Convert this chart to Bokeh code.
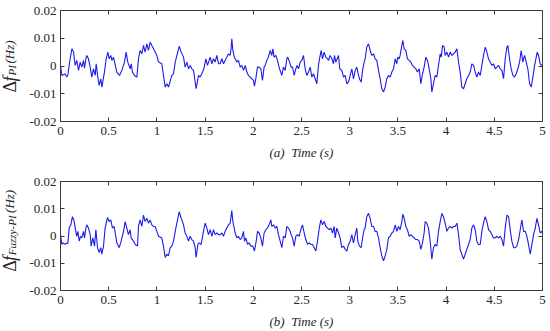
import numpy as np
from bokeh.plotting import figure
from bokeh.models import LinearAxis, FixedTicker, Range1d
from bokeh.layouts import column, row
from bokeh.core.properties import value
from bokeh.embed import file_html
from bokeh.resources import INLINE

# ---------------- data ----------------
x_ticks = [0, 0.5, 1, 1.5, 2, 2.5, 3, 3.5, 4, 4.5, 5]
x_tick_labels = ["0", "0.5", "1", "1.5", "2", "2.5", "3", "3.5", "4", "4.5", "5"]
y_ticks = [-0.02, -0.01, 0, 0.01, 0.02]
y_tick_labels = ["-0.02", "-0.01", "0", "0.01", "0.02"]

# (time s, delta f Hz) -- PI controller
pi_points = [
    (0.000, 0.0002), (0.014, -0.0034), (0.048, -0.0028), (0.066, -0.0040), (0.076, -0.0032),
    (0.100, 0.0026), (0.118, 0.0062), (0.135, 0.0050), (0.152, 0.0002), (0.169, 0.0020),
    (0.187, -0.0016), (0.204, 0.0014), (0.221, -0.0004), (0.239, 0.0020), (0.249, -0.0008),
    (0.263, 0.0026), (0.273, 0.0038), (0.290, 0.0026), (0.308, -0.0004), (0.325, -0.0040),
    (0.342, -0.0010), (0.360, -0.0034), (0.370, 0.0008), (0.387, -0.0040), (0.401, -0.0070),
    (0.418, -0.0046), (0.429, -0.0076), (0.456, -0.0022), (0.474, 0.0026), (0.491, 0.0050),
    (0.505, 0.0026), (0.522, 0.0038), (0.533, 0.0020), (0.550, 0.0032), (0.584, -0.0022),
    (0.612, -0.0034), (0.636, -0.0016), (0.664, 0.0014), (0.681, 0.0050), (0.698, 0.0014),
    (0.723, -0.0010), (0.733, 0.0008), (0.747, -0.0022), (0.768, -0.0034), (0.792, -0.0040),
    (0.809, 0.0026), (0.826, 0.0056), (0.844, 0.0044), (0.861, 0.0074), (0.878, 0.0050),
    (0.896, 0.0080), (0.913, 0.0056), (0.930, 0.0086), (0.947, 0.0074), (0.965, 0.0062),
    (0.999, 0.0038), (1.017, 0.0014), (1.051, 0.0008), (1.068, -0.0034), (1.086, -0.0076),
    (1.103, -0.0064), (1.120, -0.0076), (1.155, -0.0034), (1.172, -0.0028), (1.190, 0.0014),
    (1.231, 0.0071), (1.252, 0.0050), (1.276, 0.0032), (1.293, -0.0004), (1.311, 0.0014),
    (1.328, -0.0010), (1.345, 0.0002), (1.362, -0.0010), (1.380, -0.0016), (1.407, -0.0082),
    (1.432, -0.0034), (1.449, -0.0040), (1.473, -0.0022), (1.487, -0.0010), (1.508, 0.0026),
    (1.525, 0.0002), (1.553, 0.0032), (1.570, 0.0008), (1.587, 0.0026), (1.604, 0.0014),
    (1.622, 0.0038), (1.639, 0.0008), (1.656, 0.0008), (1.674, 0.0026), (1.691, 0.0008),
    (1.708, 0.0020), (1.725, 0.0032), (1.743, 0.0044), (1.760, 0.0038), (1.770, 0.0062),
    (1.777, 0.0098), (1.788, 0.0056), (1.803, 0.0032), (1.812, 0.0026), (1.829, 0.0014),
    (1.846, 0.0020), (1.864, -0.0004), (1.881, 0.0002), (1.898, -0.0016), (1.916, 0.0002),
    (1.933, -0.0022), (1.950, -0.0034), (1.967, -0.0040), (1.985, -0.0046), (2.002, -0.0052),
    (2.012, -0.0073), (2.026, -0.0046), (2.043, -0.0004), (2.061, -0.0004), (2.078, -0.0010),
    (2.095, -0.0052), (2.112, -0.0004), (2.123, 0.0002), (2.140, 0.0020), (2.157, 0.0032),
    (2.175, 0.0056), (2.192, 0.0038), (2.203, 0.0062), (2.216, 0.0032), (2.234, 0.0038),
    (2.251, 0.0020), (2.272, -0.0010), (2.296, -0.0034), (2.313, -0.0004), (2.331, -0.0016),
    (2.348, 0.0026), (2.358, 0.0032), (2.376, 0.0014), (2.393, -0.0004), (2.407, -0.0004),
    (2.424, -0.0034), (2.441, -0.0010), (2.455, 0.0002), (2.469, -0.0010), (2.486, 0.0014),
    (2.503, 0.0020), (2.521, 0.0038), (2.538, -0.0010), (2.555, -0.0034), (2.573, -0.0022),
    (2.590, -0.0004), (2.607, -0.0040), (2.624, -0.0028), (2.642, -0.0046), (2.659, -0.0064),
    (2.676, 0.0002), (2.687, 0.0026), (2.704, 0.0056), (2.718, 0.0026), (2.735, 0.0050),
    (2.752, 0.0032), (2.770, 0.0026), (2.780, 0.0020), (2.797, 0.0038), (2.815, 0.0026),
    (2.832, 0.0008), (2.842, 0.0038), (2.856, 0.0014), (2.870, 0.0026), (2.884, 0.0038),
    (2.897, -0.0010), (2.918, -0.0016), (2.936, -0.0040), (2.953, -0.0034), (2.970, -0.0064),
    (2.988, -0.0058), (3.005, -0.0034), (3.022, -0.0010), (3.039, -0.0046), (3.057, -0.0016),
    (3.074, -0.0004), (3.084, -0.0022), (3.101, -0.0046), (3.119, -0.0058), (3.136, -0.0010),
    (3.150, 0.0014), (3.160, 0.0026), (3.177, 0.0068), (3.195, 0.0080), (3.212, 0.0056),
    (3.229, 0.0038), (3.247, 0.0044), (3.264, 0.0026), (3.281, 0.0020), (3.299, -0.0016),
    (3.316, -0.0046), (3.333, -0.0082), (3.351, -0.0094), (3.368, -0.0076), (3.385, -0.0046),
    (3.402, -0.0034), (3.420, -0.0040), (3.437, -0.0022), (3.455, -0.0010), (3.472, 0.0026),
    (3.489, 0.0008), (3.499, 0.0032), (3.513, 0.0026), (3.523, 0.0038), (3.541, 0.0074),
    (3.551, 0.0092), (3.565, 0.0062), (3.582, 0.0056), (3.599, 0.0026), (3.617, 0.0020),
    (3.634, 0.0014), (3.651, 0.0002), (3.669, -0.0004), (3.686, -0.0010), (3.703, -0.0022),
    (3.721, -0.0010), (3.738, -0.0064), (3.755, -0.0028), (3.772, -0.0004), (3.790, 0.0032),
    (3.807, 0.0020), (3.824, -0.0010), (3.842, -0.0046), (3.852, -0.0094), (3.869, -0.0064),
    (3.886, -0.0034), (3.904, -0.0040), (3.921, 0.0002), (3.939, 0.0044), (3.949, 0.0032),
    (3.963, 0.0074), (3.980, 0.0068), (3.990, 0.0038), (4.008, 0.0050), (4.025, 0.0032),
    (4.042, 0.0050), (4.060, 0.0038), (4.077, 0.0044), (4.094, 0.0050), (4.112, 0.0062),
    (4.129, 0.0014), (4.146, -0.0022), (4.163, -0.0076), (4.181, -0.0082), (4.198, -0.0064),
    (4.215, -0.0046), (4.233, -0.0034), (4.250, -0.0022), (4.267, 0.0008), (4.285, 0.0002),
    (4.302, -0.0022), (4.319, -0.0040), (4.336, -0.0022), (4.354, -0.0034), (4.371, 0.0002),
    (4.388, 0.0038), (4.406, 0.0068), (4.423, 0.0050), (4.440, 0.0026), (4.458, 0.0014),
    (4.475, 0.0002), (4.492, 0.0008), (4.509, -0.0010), (4.527, -0.0004), (4.544, 0.0002),
    (4.561, -0.0010), (4.579, -0.0016), (4.596, -0.0046), (4.613, 0.0026), (4.631, 0.0068),
    (4.641, 0.0074), (4.658, 0.0026), (4.675, -0.0010), (4.693, -0.0034), (4.710, -0.0040),
    (4.727, -0.0028), (4.745, -0.0010), (4.762, 0.0014), (4.779, 0.0056), (4.796, 0.0014),
    (4.814, 0.0038), (4.831, 0.0014), (4.848, -0.0010), (4.866, -0.0064), (4.883, -0.0076),
    (4.900, -0.0040), (4.918, 0.0002), (4.935, 0.0032), (4.945, 0.0050), (4.959, 0.0038),
    (4.976, 0.0008), (4.993, 0.0002), (5.000, 0.0002),
]

# (time s, delta f Hz) -- Fuzzy-PI controller
fuzzy_points = [
    (0.000, 0.0005), (0.014, -0.0031), (0.031, -0.0025), (0.048, -0.0031), (0.066, -0.0025),
    (0.076, -0.0028), (0.090, 0.0029), (0.107, 0.0041), (0.124, 0.0071), (0.142, 0.0053),
    (0.159, 0.0017), (0.169, -0.0001), (0.180, 0.0017), (0.194, -0.0019), (0.207, -0.0001),
    (0.221, -0.0007), (0.239, 0.0017), (0.249, -0.0007), (0.263, 0.0029), (0.273, 0.0041),
    (0.290, 0.0029), (0.308, 0.0005), (0.318, -0.0037), (0.335, -0.0007), (0.353, -0.0037),
    (0.367, 0.0023), (0.384, -0.0043), (0.401, -0.0061), (0.418, -0.0043), (0.429, -0.0067),
    (0.446, -0.0037), (0.463, 0.0029), (0.488, 0.0068), (0.505, 0.0053), (0.522, 0.0059),
    (0.539, 0.0029), (0.557, 0.0035), (0.584, -0.0025), (0.609, -0.0043), (0.629, -0.0019),
    (0.654, 0.0017), (0.671, 0.0053), (0.688, 0.0029), (0.705, 0.0005), (0.723, 0.0023),
    (0.733, -0.0007), (0.757, -0.0019), (0.775, -0.0031), (0.799, -0.0037), (0.809, 0.0035),
    (0.826, 0.0059), (0.844, 0.0035), (0.861, 0.0077), (0.878, 0.0053), (0.896, 0.0065),
    (0.913, 0.0047), (0.930, 0.0059), (0.947, 0.0041), (0.965, 0.0035), (0.982, 0.0035),
    (0.999, 0.0017), (1.017, -0.0001), (1.051, -0.0007), (1.068, -0.0037), (1.086, -0.0079),
    (1.103, -0.0067), (1.120, -0.0073), (1.138, -0.0043), (1.155, -0.0037), (1.172, -0.0019),
    (1.190, 0.0017), (1.207, 0.0047), (1.231, 0.0089), (1.252, 0.0065), (1.276, 0.0041),
    (1.293, 0.0011), (1.311, -0.0001), (1.328, -0.0019), (1.345, -0.0001), (1.362, -0.0013),
    (1.380, -0.0019), (1.397, -0.0043), (1.407, -0.0079), (1.425, -0.0031), (1.438, -0.0025),
    (1.459, -0.0031), (1.483, 0.0017), (1.501, 0.0047), (1.518, 0.0029), (1.535, 0.0005),
    (1.553, 0.0023), (1.570, -0.0001), (1.587, 0.0023), (1.604, 0.0005), (1.622, 0.0011),
    (1.639, 0.0005), (1.656, 0.0005), (1.674, 0.0011), (1.691, -0.0001), (1.708, 0.0017),
    (1.725, 0.0029), (1.743, 0.0041), (1.760, 0.0047), (1.777, 0.0093), (1.788, 0.0053),
    (1.802, 0.0029), (1.812, 0.0011), (1.829, -0.0007), (1.846, -0.0001), (1.864, -0.0013),
    (1.881, -0.0007), (1.898, 0.0017), (1.909, -0.0019), (1.923, -0.0007), (1.940, -0.0031),
    (1.957, -0.0025), (1.974, -0.0037), (1.995, -0.0037), (2.012, -0.0055), (2.030, -0.0019),
    (2.044, 0.0017), (2.061, 0.0011), (2.078, -0.0007), (2.095, -0.0037), (2.112, 0.0011),
    (2.130, 0.0023), (2.147, 0.0029), (2.164, 0.0041), (2.182, 0.0059), (2.192, 0.0035),
    (2.209, 0.0041), (2.227, 0.0029), (2.244, 0.0035), (2.261, 0.0005), (2.279, -0.0019),
    (2.296, -0.0043), (2.313, -0.0001), (2.331, -0.0007), (2.348, 0.0035), (2.365, 0.0029),
    (2.383, 0.0017), (2.393, 0.0005), (2.407, -0.0007), (2.424, -0.0037), (2.441, -0.0001),
    (2.459, 0.0005), (2.476, -0.0001), (2.493, 0.0023), (2.510, 0.0041), (2.528, 0.0011),
    (2.545, -0.0013), (2.562, -0.0031), (2.580, -0.0025), (2.597, -0.0031), (2.614, -0.0031),
    (2.632, -0.0043), (2.649, -0.0055), (2.666, -0.0019), (2.684, 0.0029), (2.701, 0.0059),
    (2.718, 0.0041), (2.735, 0.0053), (2.753, 0.0035), (2.770, 0.0029), (2.787, 0.0023),
    (2.805, 0.0029), (2.822, 0.0011), (2.839, 0.0035), (2.849, -0.0007), (2.866, 0.0029),
    (2.884, 0.0011), (2.901, -0.0007), (2.918, -0.0043), (2.936, -0.0037), (2.953, -0.0049),
    (2.970, -0.0055), (2.988, -0.0031), (3.005, -0.0019), (3.022, 0.0005), (3.039, -0.0025),
    (3.057, 0.0005), (3.074, 0.0029), (3.084, -0.0019), (3.101, -0.0037), (3.119, -0.0043),
    (3.136, -0.0001), (3.150, 0.0023), (3.160, 0.0029), (3.177, 0.0071), (3.195, 0.0083),
    (3.212, 0.0065), (3.229, 0.0035), (3.247, 0.0035), (3.264, 0.0017), (3.281, 0.0017),
    (3.299, -0.0007), (3.316, -0.0043), (3.333, -0.0073), (3.351, -0.0091), (3.368, -0.0073),
    (3.385, -0.0049), (3.402, -0.0007), (3.420, -0.0001), (3.437, 0.0011), (3.455, 0.0017),
    (3.472, 0.0041), (3.489, 0.0017), (3.506, 0.0035), (3.523, 0.0023), (3.541, 0.0053),
    (3.551, 0.0080), (3.565, 0.0065), (3.582, 0.0035), (3.599, 0.0023), (3.617, -0.0001),
    (3.634, 0.0005), (3.651, -0.0001), (3.669, -0.0007), (3.686, -0.0013), (3.703, -0.0013),
    (3.721, -0.0019), (3.738, -0.0049), (3.755, -0.0025), (3.772, 0.0011), (3.783, 0.0053),
    (3.800, 0.0047), (3.817, 0.0029), (3.835, -0.0019), (3.852, -0.0085), (3.869, -0.0043),
    (3.886, -0.0031), (3.904, -0.0037), (3.921, 0.0017), (3.939, 0.0053), (3.956, 0.0083),
    (3.973, 0.0071), (3.990, 0.0047), (4.008, 0.0017), (4.025, 0.0029), (4.042, 0.0035),
    (4.060, 0.0029), (4.077, 0.0035), (4.094, 0.0035), (4.112, 0.0047), (4.129, 0.0005),
    (4.146, -0.0049), (4.163, -0.0067), (4.181, -0.0085), (4.198, -0.0067), (4.215, -0.0049),
    (4.233, -0.0031), (4.250, -0.0013), (4.267, 0.0029), (4.285, 0.0041), (4.302, 0.0023),
    (4.319, -0.0019), (4.336, -0.0031), (4.354, -0.0031), (4.371, 0.0017), (4.388, 0.0047),
    (4.406, 0.0071), (4.423, 0.0053), (4.440, 0.0023), (4.458, 0.0017), (4.475, 0.0005),
    (4.492, -0.0007), (4.509, -0.0007), (4.527, -0.0001), (4.544, -0.0007), (4.561, -0.0001),
    (4.579, -0.0013), (4.596, -0.0037), (4.613, 0.0029), (4.631, 0.0077), (4.648, 0.0071),
    (4.665, 0.0023), (4.682, -0.0019), (4.700, -0.0043), (4.717, -0.0043), (4.734, -0.0037),
    (4.752, -0.0013), (4.769, 0.0023), (4.786, 0.0059), (4.804, 0.0017), (4.821, 0.0017),
    (4.838, -0.0001), (4.855, -0.0031), (4.873, -0.0067), (4.890, -0.0031), (4.907, 0.0005),
    (4.925, 0.0029), (4.942, 0.0065), (4.959, 0.0041), (4.976, 0.0011), (4.993, 0.0017),
    (5.000, 0.0012),
]

time_pi = [p[0] for p in pi_points]
df_pi = [p[1] for p in pi_points]
time_fuzzy = [p[0] for p in fuzzy_points]
df_fuzzy = [p[1] for p in fuzzy_points]

# ---------------- style ----------------
FONT = "'Liberation Serif'"
AXIS_COLOR = "#3a3a3a"
TEXT_COLOR = "#262626"
LINE_COLOR = "#1c1ce8"
TOTAL_W = 550
LABEL_W = 22


def style_axis(ax, ticks, labels, show_labels):
    ax.ticker = FixedTicker(ticks=ticks)
    ax.minor_tick_line_color = None
    ax.major_tick_in = 4
    ax.major_tick_out = 0
    ax.major_tick_line_color = AXIS_COLOR
    ax.axis_line_color = AXIS_COLOR
    ax.major_label_text_font = FONT
    ax.major_label_text_color = TEXT_COLOR
    if show_labels:
        ax.major_label_overrides = {t: s for t, s in zip(ticks, labels)}
        ax.major_label_text_font_size = "13px"
        ax.major_label_standoff = 4
    else:
        ax.major_label_text_font_size = "0px"
        ax.major_label_text_color = None
        ax.major_label_standoff = 0


def make_panel(t, v, height, btop, bbottom, xlabel, sub, label_y):
    yr = Range1d(-0.02, 0.02)

    # narrow strip holding the y-axis label (Δf_sub (Hz)), vertical text
    lab = figure(width=LABEL_W, height=height, output_backend="svg", toolbar_location=None,
                 x_range=Range1d(0, LABEL_W), y_range=yr,
                 x_axis_type=None, y_axis_type=None,
                 min_border_left=0, min_border_right=0,
                 min_border_top=btop, min_border_bottom=bbottom)
    lab.grid.visible = False
    lab.outline_line_color = None
    yd, yf, ys, yh = label_y
    common = dict(angle=np.pi / 2, text_font=value(FONT), text_color=TEXT_COLOR,
                  text_align="left", text_baseline="alphabetic")
    lab.text(x=[9.5], y=[yd], text=["Δ"], text_font_size=value("18px"),
             text_font_style=value("normal"), **common)
    lab.text(x=[9.5], y=[yf], text=["f"], text_font_size=value("18px"),
             text_font_style=value("italic"), **common)
    lab.text(x=[11], y=[ys], text=[sub], text_font_size=value("11px"),
             text_font_style=value("italic"), **common)
    lab.text(x=[9], y=[yh], text=["(Hz)"], text_font_size=value("13px"),
             text_font_style=value("italic"), **common)

    p = figure(width=TOTAL_W - LABEL_W, height=height, output_backend="svg",
               toolbar_location=None,
               x_range=Range1d(0, 5), y_range=yr,
               min_border_left=60 - LABEL_W, min_border_right=8,
               min_border_top=btop, min_border_bottom=bbottom)
    p.grid.visible = False
    p.outline_line_color = AXIS_COLOR
    style_axis(p.xaxis[0], x_ticks, x_tick_labels, True)
    style_axis(p.yaxis[0], y_ticks, y_tick_labels, True)
    p.xaxis.major_label_standoff = 5
    p.xaxis.axis_label = xlabel
    p.xaxis.axis_label_text_font = FONT
    p.xaxis.axis_label_text_font_style = "italic"
    p.xaxis.axis_label_text_font_size = "13px"
    p.xaxis.axis_label_text_color = TEXT_COLOR
    p.xaxis.axis_label_standoff = 7
    top = LinearAxis()
    style_axis(top, x_ticks, x_tick_labels, False)
    p.add_layout(top, "above")
    right = LinearAxis()
    style_axis(right, y_ticks, y_tick_labels, False)
    p.add_layout(right, "right")

    p.line(t, v, line_color=LINE_COLOR, line_width=1.1)
    return row(lab, p, spacing=0)


panel_a = make_panel(time_pi, df_pi, 166, 10, 45, "(a)\u00a0\u00a0Time (s)", "PI",
                     (-0.00955, -0.00559, -0.00342, 0.0009))
panel_b = make_panel(time_fuzzy, df_fuzzy, 165, 15, 39, "(b)\u00a0\u00a0Time (s)", "Fuzzy-PI",
                     (-0.01315, -0.00919, -0.00703, 0.00847))

layout = column(panel_a, panel_b, spacing=0)

open("out.html", "w").write(file_html(layout, INLINE))
